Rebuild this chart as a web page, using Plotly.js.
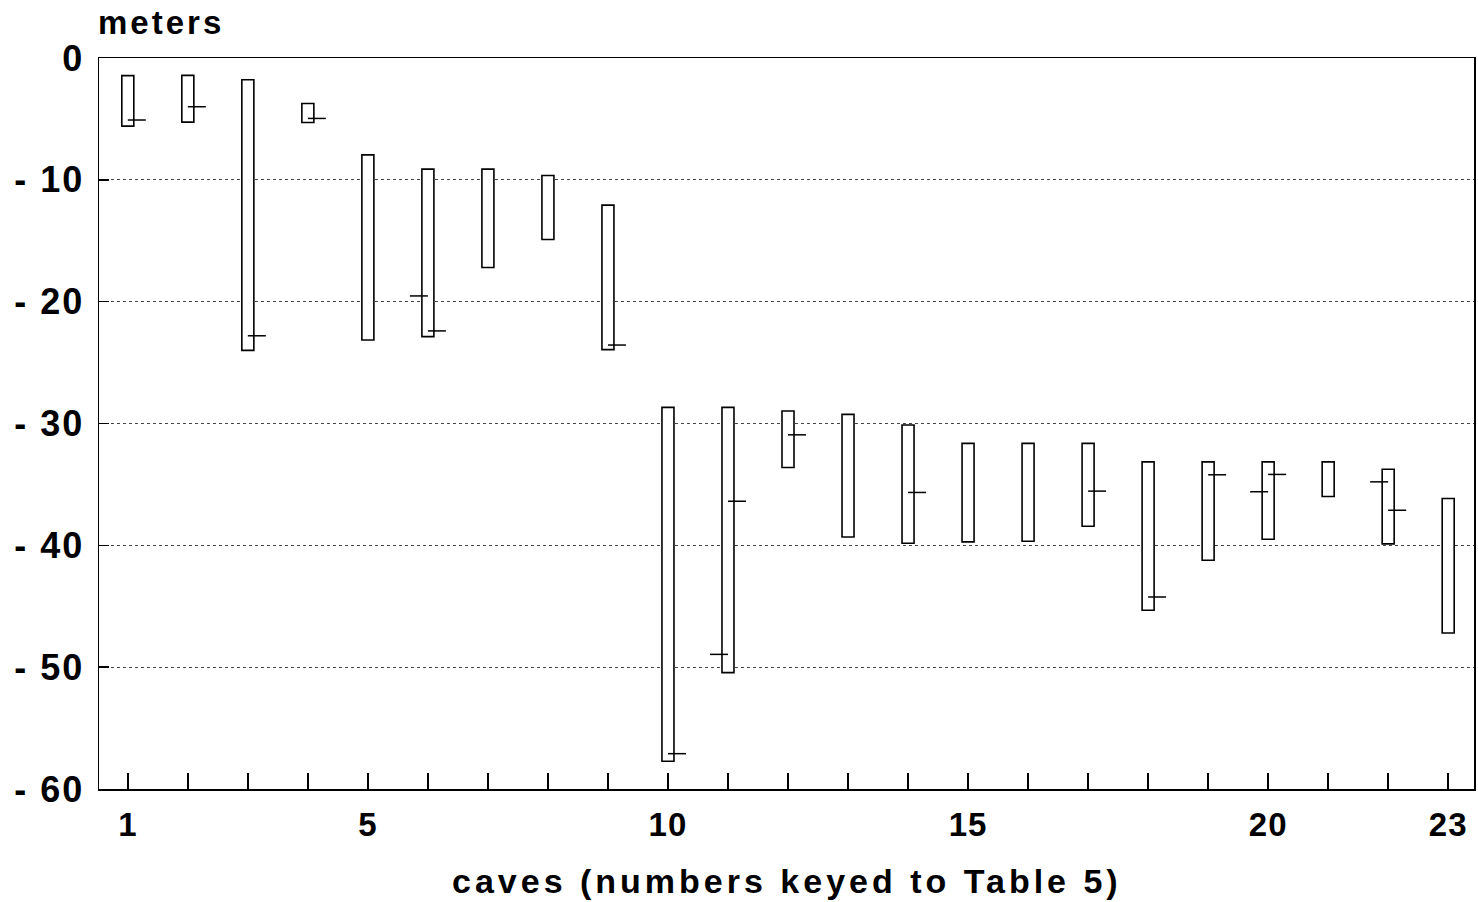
<!DOCTYPE html>
<html>
<head>
<meta charset="utf-8">
<script src="https://cdn.plot.ly/plotly-3.0.1.min.js"></script>
<style>
  html, body { margin: 0; padding: 0; background: #fff; }
  #chart { width: 1478px; height: 902px; }
  .annotation[data-index="0"] .annotation-text { letter-spacing: 3px; }
  .annotation[data-index="1"] .annotation-text { letter-spacing: 4px; }
  .ytick text { letter-spacing: 2px; }
  .xtick text { letter-spacing: 1px; }
</style>
</head>
<body>
<div id="chart"></div>
<script>
// cave numbers (Table 5)
const caves = [1,2,3,4,5,6,7,8,9,10,11,12,13,14,15,16,17,18,19,20,21,22,23];
// upper end of each depth range (m)
const rangeTop = [-1.45,-1.43,-1.78,-3.73,-7.95,-9.12,-9.12,-9.64,-12.08,-28.68,-28.68,-28.98,-29.25,-30.12,-31.63,-31.63,-31.63,-33.15,-33.15,-33.15,-33.15,-33.75,-36.15];
// lower end of each depth range (m)
const rangeBottom = [-5.59,-5.26,-24.0,-5.29,-23.15,-22.87,-17.2,-14.9,-23.94,-57.72,-50.45,-33.61,-39.31,-39.83,-39.72,-39.66,-38.43,-45.33,-41.22,-39.5,-35.99,-39.88,-47.2];
// marks drawn to the right of the bar centre
const rightMarkCave = [1,2,3,4,6,9,10,11,12,14,17,18,19,20,22];
const rightMarkDepth = [-5.09,-4.0,-22.8,-4.96,-22.4,-23.56,-57.1,-36.38,-30.93,-35.66,-35.55,-44.24,-34.21,-34.18,-37.12];
// marks drawn to the left of the bar centre
const leftMarkCave = [6,11,20,22];
const leftMarkDepth = [-19.53,-48.95,-35.6,-34.79];
// axis labels
const yTickVals = [0,-10,-20,-30,-40,-50,-60];
const yTickText = ["0","- 10","- 20","- 30","- 40","- 50","- 60"];
const xLabelled = {1:"1",5:"5",10:"10",15:"15",20:"20",23:"23"};

const MARK_LEN = 0.3;
function segs(cs, ds, dir) {
  const xs = [], ys = [];
  cs.forEach((c, i) => {
    xs.push(c, c + dir * MARK_LEN, null);
    ys.push(ds[i], ds[i], null);
  });
  return {xs, ys};
}
const r = segs(rightMarkCave, rightMarkDepth, 1);
const l = segs(leftMarkCave, leftMarkDepth, -1);

const FONT = "Liberation Sans, Arial, sans-serif";

const traces = [
  {
    type: 'bar',
    x: caves,
    base: rangeBottom,
    y: caves.map((c, i) => rangeTop[i] - rangeBottom[i]),
    width: 0.2,
    marker: {color: '#ffffff', line: {color: '#000000', width: 1.6}},
    hoverinfo: 'skip'
  },
  {
    type: 'scatter', mode: 'lines',
    x: r.xs, y: r.ys,
    line: {color: '#000000', width: 1.5},
    connectgaps: false, hoverinfo: 'skip'
  },
  {
    type: 'scatter', mode: 'lines',
    x: l.xs, y: l.ys,
    line: {color: '#000000', width: 1.5},
    connectgaps: false, hoverinfo: 'skip'
  }
];

const layout = {
  width: 1478, height: 902,
  margin: {l: 99, r: 4, t: 58, b: 113},
  paper_bgcolor: '#ffffff',
  plot_bgcolor: '#ffffff',
  showlegend: false,
  xaxis: {
    range: [0.52, 23.43],
    tickvals: caves,
    ticktext: caves.map(c => xLabelled[c] || ''),
    ticks: 'inside', ticklen: 16, tickwidth: 1.5, tickcolor: '#000',
    showgrid: false, zeroline: false,
    showline: true, linecolor: '#000', linewidth: 1.5, mirror: true,
    tickfont: {family: FONT, size: 33, color: '#000', weight: 'bold'},
    ticklabelstandoff: 6
  },
  yaxis: {
    range: [-60, 0],
    tickvals: yTickVals,
    ticktext: yTickText,
    ticks: 'inside', ticklen: 10, tickwidth: 1.5, tickcolor: '#000',
    showgrid: true, gridcolor: '#444', griddash: 'dot', gridwidth: 1,
    zeroline: false,
    showline: true, linecolor: '#000', linewidth: 1.5, mirror: true,
    tickfont: {family: FONT, size: 36, color: '#000', weight: 'bold'},
    ticklabelstandoff: 6
  },
  annotations: [
    {
      xref: 'paper', yref: 'paper', x: 0.004, y: 1.049,
      xanchor: 'left', yanchor: 'middle', showarrow: false,
      text: 'meters',
      font: {family: FONT, size: 33, color: '#000', weight: 'bold'}
    },
    {
      xref: 'paper', yref: 'paper', x: 0.5, y: -0.126,
      xanchor: 'center', yanchor: 'middle', showarrow: false,
      text: 'caves (numbers keyed to Table 5)',
      font: {family: FONT, size: 34, color: '#000', weight: 'bold'}
    }
  ]
};

Plotly.newPlot('chart', traces, layout, {staticPlot: true, displayModeBar: false});
</script>
</body>
</html>
